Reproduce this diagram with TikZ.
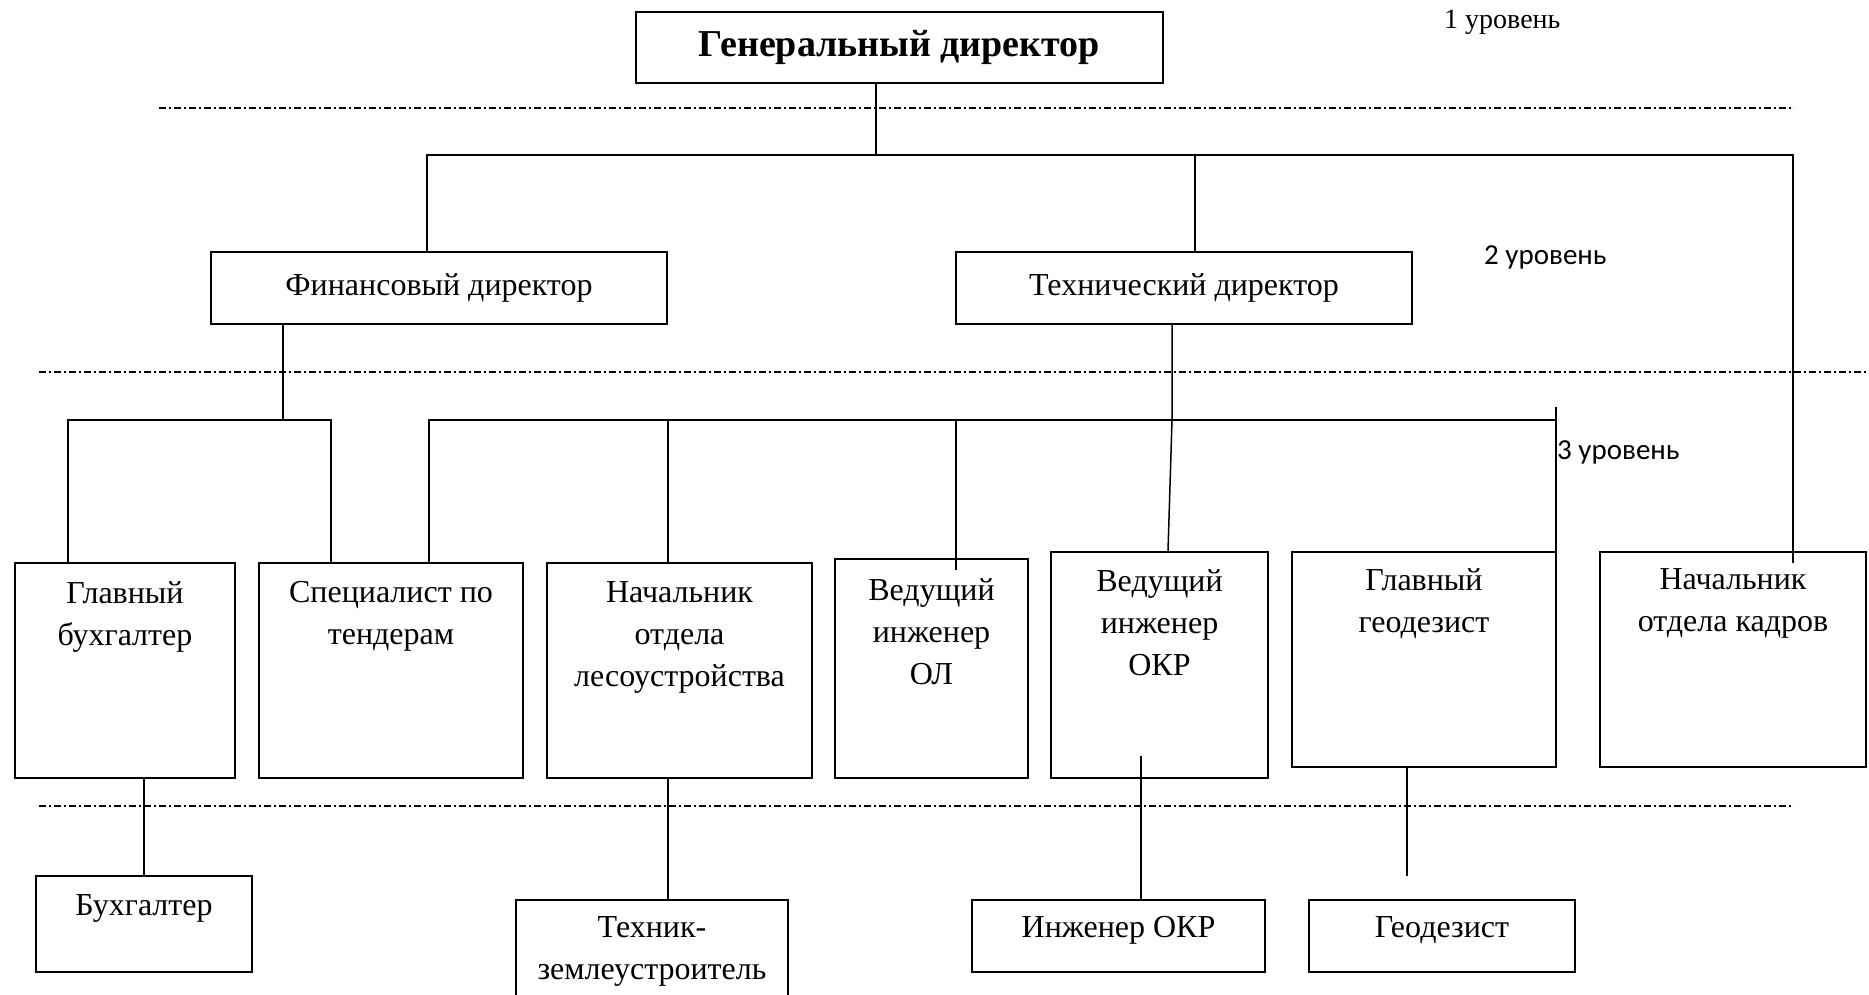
\documentclass[tikz,border=0pt]{standalone}
\usepackage{fontspec}
\setmainfont{Liberation Serif}
\newfontfamily\levelfont{Carlito}
\usetikzlibrary{positioning,calc}

\tikzset{
  box/.style={draw, line width=2pt, inner sep=0pt},
  boxtext/.style={font=\fontsize{32}{42}\selectfont, align=center, inner sep=0pt},
  link/.style={line width=1.5pt},
  levelline/.style={line width=2pt, dash pattern=on 7pt off 3pt on 2pt off 3pt},
  levellabel/.style={font=\levelfont\fontsize{29}{32}\selectfont, inner sep=0pt, anchor=west}
}

\begin{document}
\begin{tikzpicture}[x=1pt,y=-1pt]
    \clip (0,0) rectangle (1869,995);
    \fill[white] (0,0) rectangle (1869,995);

    % 1 уровень
    \node[box, minimum width=527pt, minimum height=71pt,
          font=\fontsize{38}{42}\selectfont\bfseries] (gen) at (899.5,47.5) {Генеральный директор};
    \node[inner sep=0pt, anchor=west, font=\fontsize{28}{32}\selectfont] (lvl1) at (1444,22) {1 уровень};

    % 2 уровень
    \node[box, boxtext, minimum width=456pt, minimum height=72pt] (fin) at (439,288) {Финансовый директор};
    \node[box, boxtext, minimum width=456pt, minimum height=72pt] (tech) at (1184,288) {Технический директор};
    \node[levellabel] (lvl2) at (1484,257) {2 уровень};

    % 3 уровень
    \node[box, minimum width=220pt, minimum height=215pt] (gb) at (125,670.5) {};
    \node[box, minimum width=264pt, minimum height=215pt] (spec) at (391,670.5) {};
    \node[box, minimum width=265pt, minimum height=215pt] (nles) at (679.5,670.5) {};
    \node[box, minimum width=193pt, minimum height=219pt] (vol) at (931.5,668.5) {};
    \node[box, minimum width=217pt, minimum height=226pt] (vokr) at (1159.5,665) {};
    \node[box, minimum width=264pt, minimum height=215pt] (ggeo) at (1424,659.5) {};
    \node[box, minimum width=266pt, minimum height=215pt] (nok) at (1733,659.5) {};
    \node[levellabel] (lvl3) at (1557,452) {3 уровень};

    \node[boxtext, below=19pt of gb.north] (gb-t) {Главный\\бухгалтер};
    \node[boxtext, below=19pt of spec.north] (spec-t) {Специалист по\\тендерам};
    \node[boxtext, below=19pt of nles.north] (nles-t) {Начальник\\отдела\\лесоустройства};
    \node[boxtext, below=20pt of vol.north] (vol-t) {Ведущий\\инженер\\ОЛ};
    \node[boxtext, below=18pt of vokr.north] (vokr-t) {Ведущий\\инженер\\ОКР};
    \node[boxtext, below=17pt of ggeo.north] (ggeo-t) {Главный\\геодезист};
    \node[boxtext, below=17pt of nok.north] (nok-t) {Начальник\\отдела кадров};

    % 4 уровень
    \node[box, minimum width=216pt, minimum height=96pt] (bux) at (144,924) {};
    \node[box, minimum width=272pt, minimum height=110pt] (tz) at (652,955) {};
    \node[box, minimum width=293pt, minimum height=72pt] (iokr) at (1118.5,936) {};
    \node[box, minimum width=266pt, minimum height=72pt] (geo) at (1442,936) {};

    \node[boxtext, below=19pt of bux.north] (bux-t) {Бухгалтер};
    \node[boxtext, below=17pt of tz.north] (tz-t) {Техник-\\землеустроитель};
    \node[boxtext, below=17pt of iokr.north] (iokr-t) {Инженер ОКР};
    \node[boxtext, below=17pt of geo.north] (geo-t) {Геодезист};

    % линии уровней
    \draw[levelline] (159,108) -- (1794,108);
    \draw[levelline] (39,372) -- (1869,372);
    \draw[levelline] (39,806) -- (1794,806);

    % связи от генерального директора
    \coordinate (b1) at (876,155);
    \coordinate (b1L) at (427,155);
    \coordinate (b1T) at (1195,155);
    \coordinate (b1R) at (1793,155);
    \draw[link] (b1 |- gen.south) -- (b1);
    \draw[link] (b1L |- fin.north) -- (b1L) -- (b1R) -- ($(b1R |- nok.north)+(0,12)$);
    \draw[link] (b1T) -- (b1T |- tech.north);

    % связи от финансового директора
    \coordinate (b2F) at (283,420);
    \coordinate (b2L) at (68,420);
    \coordinate (b2R) at (331,420);
    \draw[link] (b2F |- fin.south) -- (b2F);
    \draw[link] (b2L |- gb.north) -- (b2L) -- (b2R) -- (b2R |- spec.north);

    % связи от технического директора
    \coordinate (b3T) at (1172,420);
    \coordinate (b3L) at (429,420);
    \coordinate (b3N) at (668,420);
    \coordinate (b3V) at (956,420);
    \coordinate (b3R) at (1556,420);
    \draw[link] (b3T |- tech.south) -- (b3T) -- (1168,0 |- vokr.north);
    \draw[link] (b3L |- spec.north) -- (b3L) -- (b3R);
    \draw[link] (b3N) -- (b3N |- nles.north);
    \draw[link] (b3V) -- ($(b3V |- vol.north)+(0,12)$);
    \draw[link] ($(b3R)+(0,-13)$) -- (b3R |- ggeo.north);

    % 4 уровень
    \coordinate (c1) at (144,0);
    \coordinate (c2) at (668,0);
    \coordinate (c3) at (1141,756);
    \coordinate (c4) at (1407,876);
    \draw[link] (c1 |- gb.south) -- (c1 |- bux.north);
    \draw[link] (c2 |- nles.south) -- (c2 |- tz.north);
    \draw[link] (c3) -- (c3 |- iokr.north);
    \draw[link] (c4 |- ggeo.south) -- (c4);
\end{tikzpicture}
\end{document}
